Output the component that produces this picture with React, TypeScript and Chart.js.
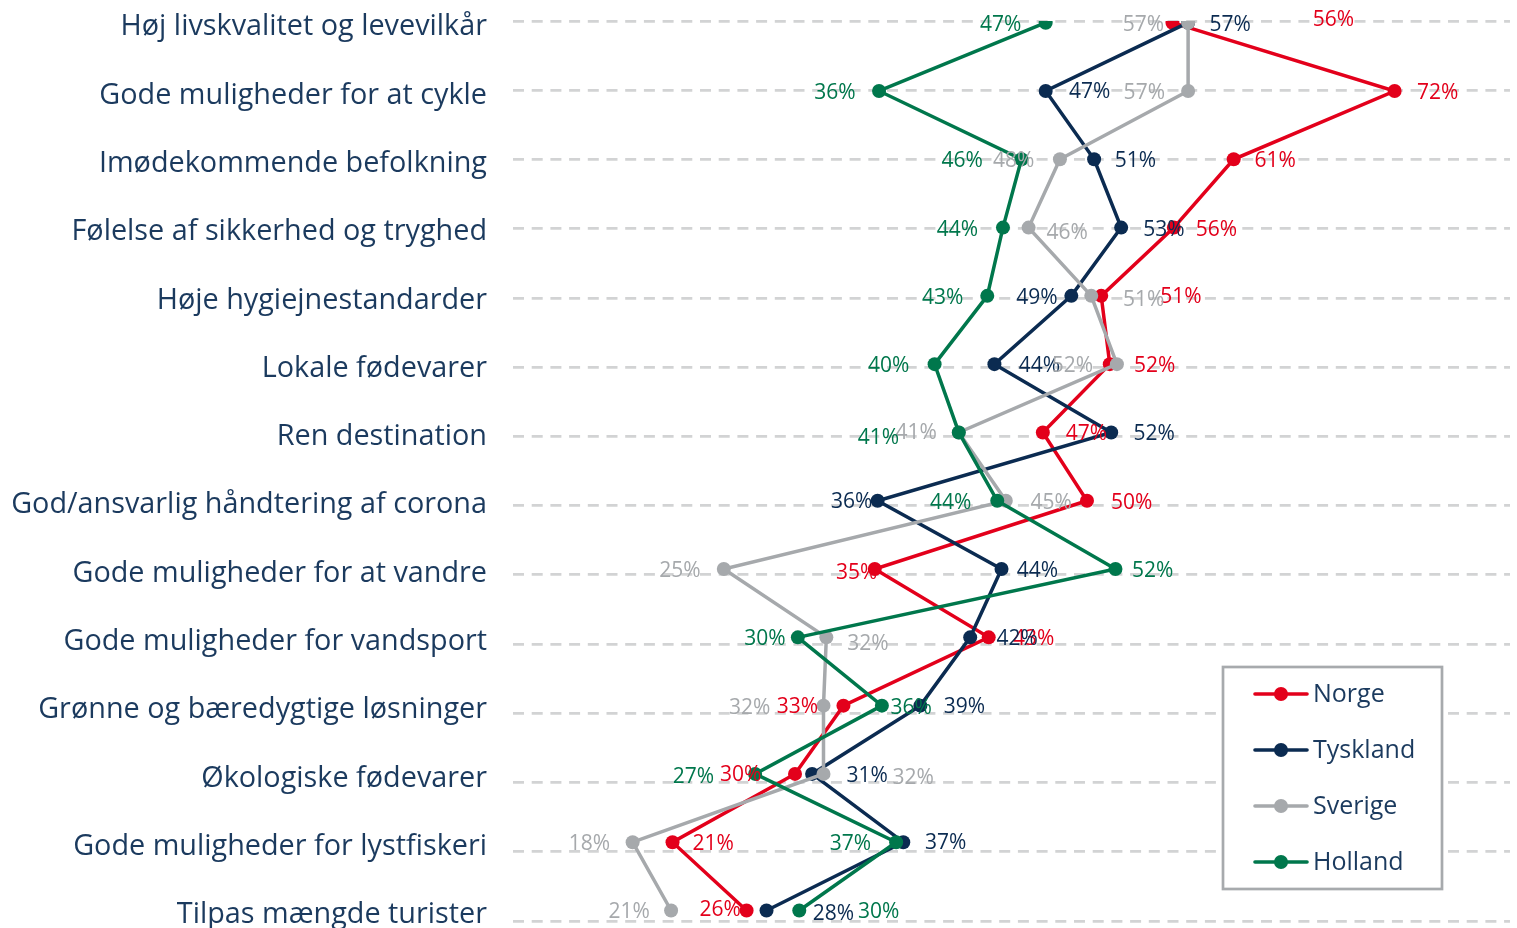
import React, { useEffect, useRef } from 'react';
import { Chart, registerables } from 'chart.js';

Chart.register(...registerables);

const categories = [
  'Høj livskvalitet og levevilkår',
  'Gode muligheder for at cykle',
  'Imødekommende befolkning',
  'Følelse af sikkerhed og tryghed',
  'Høje hygiejnestandarder',
  'Lokale fødevarer',
  'Ren destination',
  'God/ansvarlig håndtering af corona',
  'Gode muligheder for at vandre',
  'Gode muligheder for vandsport',
  'Grønne og bæredygtige løsninger',
  'Økologiske fødevarer',
  'Gode muligheder for lystfiskeri',
  'Tilpas mængde turister',
];

const seriesNames = ['Norge', 'Tyskland', 'Sverige', 'Holland'];

const norge = [56.3, 71.9, 60.6, 56.4, 51.3, 51.9, 47.2, 50.3, 35.4, 43.4, 33.2, 29.8, 21.2, 26.4];
const tyskland = [57.4, 47.4, 50.8, 52.7, 49.2, 43.8, 52.0, 35.6, 44.3, 42.1, 38.6, 31.0, 37.4, 27.8];
const sverige = [57.4, 57.4, 48.4, 46.2, 50.6, 52.4, 41.3, 44.6, 24.8, 32.0, 31.8, 31.8, 18.4, 21.1];
const holland = [47.4, 35.7, 45.7, 44.4, 43.3, 39.6, 41.3, 44.0, 52.3, 30.0, 35.9, 27.0, 36.9, 30.1];

const seriesValues = [norge, tyskland, sverige, holland];
const seriesColors = ['#E3001B', '#0B2B51', '#A6A9AC', '#00774C'];

// data label placement relative to each point: [dx, dy] in pixels
const norgeLabelPos = [[161, -4], [43, 1], [41.5, 1], [42.6, 1], [79.7, 0], [45, 1], [43.5, 1], [44.7, 1], [-18, 3], [45, 1], [-46, 0], [-54.4, 0], [40.7, 1], [-26.5, -1]];
const tysklandLabelPos = [[42, 1], [44, 0], [41.3, 1], [42.7, 1], [-34.5, 1], [45, 1], [43, 1], [-26, 0], [36, 1], [47, 1], [44, 0], [55, 1], [42.5, 0], [67, 3]];
const sverigeLabelPos = [[-44.7, 1], [-43.8, 1], [-46.3, 1], [38.5, 4], [52.4, 3], [-44.5, 1], [-42.6, 0], [45.4, 1], [-43.8, 1], [41.6, 6], [-73.7, 1], [89.8, 3], [-43.3, 1], [-42, 1]];
const hollandLabelPos = [[-45, 1], [-44, 1], [-59.2, 1], [-45.5, 1], [-44.6, 1], [-46, 1], [-80.3, 5], [-46.6, 1], [37.2, 1], [-33, 1], [29.4, 1], [-61.8, 2], [-45.6, 1], [79.5, 1]];
const labelPositions = [norgeLabelPos, tysklandLabelPos, sverigeLabelPos, hollandLabelPos];

const FONT = '"Open Sans", "Noto Sans", sans-serif';
const NAVY_TEXT = '#1B3A5E';

const dataLabelPlugin = {
  id: 'pointLabels',
  afterDatasetsDraw(chart: any) {
    const ctx = chart.ctx;
    ctx.save();
    ctx.font = `21px ${FONT}`;
    ctx.textAlign = 'center';
    ctx.textBaseline = 'middle';
    chart.data.datasets.forEach((ds: any, di: number) => {
      const meta = chart.getDatasetMeta(di);
      ctx.fillStyle = seriesColors[di];
      meta.data.forEach((el: any, i: number) => {
        const pos = labelPositions[di][i];
        const v = seriesValues[di][i];
        ctx.fillText(`${Math.round(v)}%`, el.x + pos[0], el.y + pos[1] + 1);
      });
    });
    ctx.restore();
  },
};

const legendBoxPlugin = {
  id: 'legendBox',
  afterDraw(chart: any) {
    const ctx = chart.ctx;
    ctx.save();
    const bx = 1223, by = 667, bw = 219, bh = 222;
    ctx.fillStyle = '#ffffff';
    ctx.fillRect(bx, by, bw, bh);
    ctx.strokeStyle = '#A7AAAD';
    ctx.lineWidth = 2.7;
    ctx.strokeRect(bx, by, bw, bh);
    seriesNames.forEach((name, i) => {
      const y = 694 + i * 56;
      ctx.strokeStyle = seriesColors[i];
      ctx.lineWidth = 3.6;
      ctx.lineCap = 'round';
      ctx.beginPath();
      ctx.moveTo(1255, y);
      ctx.lineTo(1307, y);
      ctx.stroke();
      ctx.fillStyle = seriesColors[i];
      ctx.beginPath();
      ctx.arc(1281, y, 7, 0, Math.PI * 2);
      ctx.fill();
      ctx.fillStyle = NAVY_TEXT;
      ctx.font = `25px ${FONT}`;
      ctx.textAlign = 'left';
      ctx.textBaseline = 'middle';
      ctx.fillText(name, 1313, y + 1);
    });
    ctx.restore();
  },
};

export default function App() {
  const canvasRef = useRef<HTMLCanvasElement | null>(null);

  useEffect(() => {
    document.body.style.margin = '0';
    document.body.style.background = '#ffffff';
    const canvas = canvasRef.current;
    if (!canvas) return;

    const datasets = seriesNames.map((name, di) => ({
      label: name,
      data: seriesValues[di].map((v, i) => ({ x: v, y: i })),
      borderColor: seriesColors[di],
      backgroundColor: seriesColors[di],
      pointBackgroundColor: seriesColors[di],
      pointBorderWidth: 0,
      pointRadius: 7,
      borderWidth: 3.5,
      tension: 0,
      fill: false,
      xAxisID: 'x',
      yAxisID: 'y',
      order: 4 - di,
    }));

    const chart = new Chart(canvas, {
      type: 'line',
      data: { datasets },
      plugins: [dataLabelPlugin, legendBoxPlugin],
      options: {
        animation: false,
        responsive: false,
        indexAxis: 'y',
        layout: { padding: { top: 21, bottom: 6.5, left: 0, right: 0 } },
        plugins: {
          legend: { display: false },
          tooltip: { enabled: false },
        },
        scales: {
          x: {
            type: 'linear',
            min: 10,
            max: 80,
            display: false,
          },
          y: {
            type: 'linear',
            position: 'left',
            reverse: true,
            min: -0.0249,
            max: 13.1537,
            grid: { display: false, drawTicks: false },
            border: { display: false },
            afterBuildTicks: (scale: any) => {
              scale.ticks = categories.map((_, i) => ({ value: i }));
            },
            afterFit: (scale: any) => {
              scale.width = 513;
              scale.paddingTop = 0;
              scale.paddingBottom = 0;
            },
            ticks: {
              autoSkip: false,
              padding: 26,
              labelOffset: 4.5,
              color: NAVY_TEXT,
              font: { family: FONT, size: 28.8, lineHeight: 1 },
              callback: (value: any) => categories[Math.round(Number(value))] ?? '',
            },
          },
          yGrid: {
            type: 'category',
            position: 'left',
            labels: categories,
            offset: false,
            grid: { display: true, color: '#D2D3D4', lineWidth: 2.8, drawTicks: false },
            border: { display: false, dash: [11, 7.7] },
            ticks: { display: false },
            afterFit: (scale: any) => {
              scale.width = 0;
              scale.paddingTop = 0;
              scale.paddingBottom = 0;
            },
          },
        },
      } as any,
    });

    return () => chart.destroy();
  }, []);

  return (
    <div style={{ width: 1517, height: 928, overflow: 'hidden', background: '#fff' }}>
      <canvas ref={canvasRef} width={1517} height={928} style={{ width: 1517, height: 928, display: 'block' }} />
    </div>
  );
}
